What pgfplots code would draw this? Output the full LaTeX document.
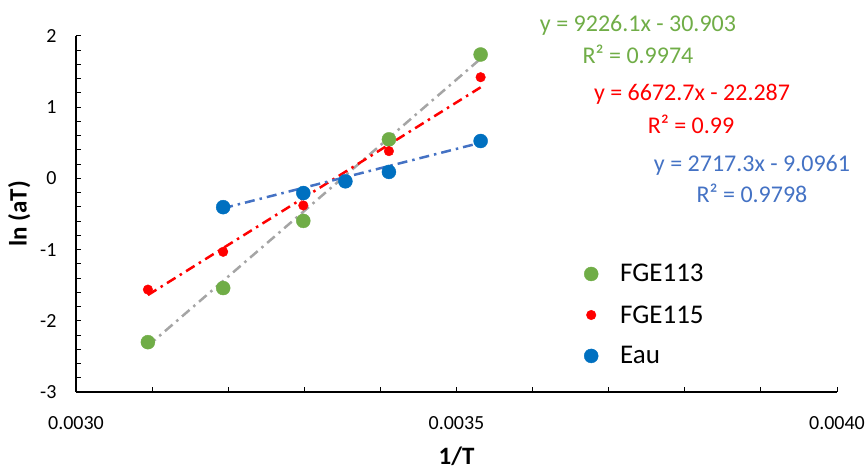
\documentclass[border=0pt]{standalone}
\usepackage{pgfplots}
\pgfplotsset{compat=1.18}
\usepackage{fontspec}
\setmainfont{Carlito}
\definecolor{cgreen}{HTML}{70AD47}
\definecolor{cred}{HTML}{FF0000}
\definecolor{cblue}{HTML}{0070C0}
\definecolor{tgray}{HTML}{A5A5A5}
\definecolor{tblue}{HTML}{4472C4}
\begin{document}
\begin{tikzpicture}
\begin{axis}[
  scale only axis,
  width=761pt, height=356pt,
  xmin=0.003, xmax=0.004, ymin=-3, ymax=2,
  axis lines*=left,
  axis line style={line width=1.3pt},
  xtick={0.003,0.0035,0.004},
  minor xtick={0.0031,0.0032,0.0033,0.0034,0.0036,0.0037,0.0038,0.0039},
  ytick={-3,-2,-1,0,1,2},
  minor y tick num=4,
  tick align=inside,
  major tick length=5pt, minor tick length=5pt,
  tick style={black, line width=1pt},
  scaled x ticks=false,
  x tick label style={/pgf/number format/fixed, /pgf/number format/fixed zerofill, /pgf/number format/precision=4, yshift=-21pt},
  /pgf/number format/assume math mode=true,
  tick label style={font=\fontsize{20}{24}\selectfont},
  yticklabel style={xshift=-16pt},
  xlabel={\textbf{1/T}},
  ylabel={\textbf{ln (aT)}},
  label style={font=\fontsize{25}{29}\selectfont},
  xlabel style={yshift=-10pt},
  ylabel style={yshift=3pt},
  clip=false,
  legend style={draw=none, fill=none, at={(0.6636,0.370)}, anchor=north west,
    font=\fontsize{27}{31}\selectfont, row sep=18pt,
    /tikz/every odd column/.append style={column sep=20pt}},
  legend cell align=left,
]
\addplot[only marks, mark=*, mark size=7pt, color=cgreen] coordinates {
(0.0030945,-2.30) (0.0031934,-1.54) (0.0032987,-0.597) (0.0034112,0.548) (0.0035317,1.74)};
\addlegendentry{FGE113}
\addplot[only marks, mark=*, mark size=4.8pt, color=cred] coordinates {
(0.0030945,-1.562) (0.0031934,-1.031) (0.0032987,-0.380) (0.0034112,0.383) (0.0035317,1.421)};
\addlegendentry{FGE115}
\addplot[only marks, mark=*, mark size=7pt, color=cblue] coordinates {
(0.0031934,-0.404) (0.0032987,-0.206) (0.003354,-0.041) (0.0034112,0.091) (0.0035317,0.525)};
\addlegendentry{Eau}
\addplot[forget plot, no marks, color=tgray, line width=2.5pt, dash pattern=on 10pt off 5pt on 2.5pt off 5pt] coordinates {(0.0030945,-2.352) (0.0035317,1.681)};
\addplot[forget plot, no marks, color=cred, line width=2.5pt, dash pattern=on 10pt off 5pt on 2.5pt off 5pt] coordinates {(0.0030945,-1.638) (0.0035317,1.279)};
\addplot[forget plot, no marks, color=tblue, line width=2.5pt, dash pattern=on 10pt off 5pt on 2.5pt off 5pt] coordinates {(0.0031934,-0.419) (0.0035317,0.501)};
\node[font=\fontsize{24}{28}\selectfont, text=cgreen] at (axis cs:0.0037385,2.15) {y = 9226.1x - 30.903};
\node[font=\fontsize{24}{28}\selectfont, text=cgreen] at (axis cs:0.0037385,1.736) {R² = 0.9974};
\node[font=\fontsize{24}{28}\selectfont, text=cred] at (axis cs:0.0038095,1.182) {y = 6672.7x - 22.287};
\node[font=\fontsize{24}{28}\selectfont, text=cred] at (axis cs:0.0038082,0.762) {R² = 0.99};
\node[font=\fontsize{24}{28}\selectfont, text=tblue] at (axis cs:0.0038883,0.187) {y = 2717.3x - 9.0961};
\node[font=\fontsize{24}{28}\selectfont, text=tblue] at (axis cs:0.0038883,-0.206) {R² = 0.9798};
\end{axis}
\pgfresetboundingbox
\path ([xshift=-76pt,yshift=-80pt]current axis.south west) rectangle ([xshift=29pt,yshift=36pt]current axis.north east);
\end{tikzpicture}
\end{document}
